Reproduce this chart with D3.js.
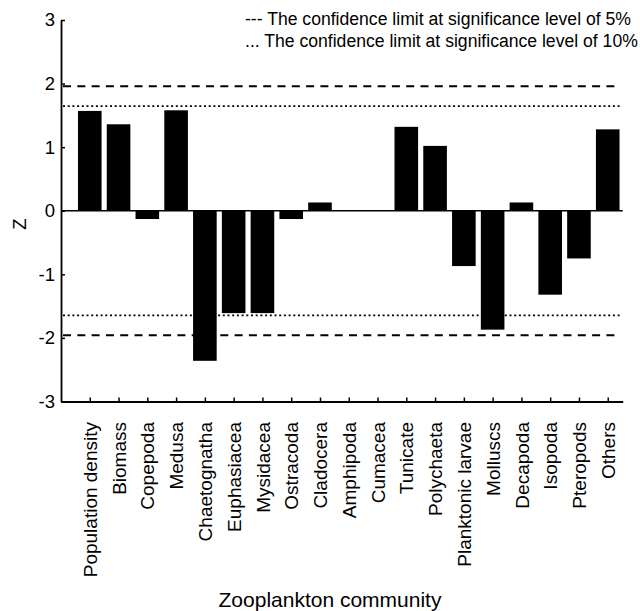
<!DOCTYPE html>
<html>
<head>
<meta charset="utf-8">
<script src="https://cdn.jsdelivr.net/npm/d3@7"></script>
<style>
  html, body { margin: 0; padding: 0; background: #fff; }
  svg { display: block; font-family: "Liberation Sans", Arial, sans-serif; }
</style>
</head>
<body>
<svg id="chart" width="640" height="611"></svg>
<script>
// Zooplankton groups along the horizontal axis
const categories = [
  "Population density", "Biomass", "Copepoda", "Medusa", "Chaetognatha",
  "Euphasiacea", "Mysidacea", "Ostracoda", "Cladocera", "Amphipoda",
  "Cumacea", "Tunicate", "Polychaeta", "Planktonic larvae", "Molluscs",
  "Decapoda", "Isopoda", "Pteropods", "Others"
];
// Z statistic for each group
const zValues = [
  1.57, 1.36, -0.13, 1.58, -2.36,
  -1.61, -1.61, -0.13, 0.13, 0,
  0, 1.32, 1.02, -0.87, -1.87,
  0.13, -1.32, -0.75, 1.28
];
// Confidence limits: 5% (dashed) and 10% (dotted)
const limits5 = [1.96, -1.96];
const limits10 = [1.645, -1.645];
const yTicks = [-3, -2, -1, 0, 1, 2, 3];
const legendLines = [
  "--- The confidence limit at significance level of 5%",
  "... The confidence limit at significance level of 10%"
];

const svg = d3.select("#chart");

const x = d3.scaleLinear().domain([0, 19.52]).range([61, 622.7]);
const y = d3.scaleLinear().domain([-3, 3]).range([401.5, 20]);
const barW = 23.6;

// bars
svg.append("g").selectAll("rect")
  .data(zValues)
  .join("rect")
  .attr("x", (d, i) => x(i + 1) - barW / 2)
  .attr("width", barW)
  .attr("y", d => y(Math.max(0, d)))
  .attr("height", d => Math.abs(y(d) - y(0)))
  .attr("fill", "#000");

// zero line
svg.append("line")
  .attr("x1", x(0)).attr("x2", x(19.52))
  .attr("y1", y(0)).attr("y2", y(0))
  .attr("stroke", "#000").attr("stroke-width", 1.5);

// confidence limit lines
svg.append("g").selectAll("line")
  .data(limits5)
  .join("line")
  .attr("x1", x(0) + 2).attr("x2", 617)
  .attr("y1", d => y(d)).attr("y2", d => y(d))
  .attr("stroke", "#000").attr("stroke-width", 2)
  .attr("stroke-dasharray", "8,6.3");

svg.append("g").selectAll("line")
  .data(limits10)
  .join("line")
  .attr("x1", x(0) + 2).attr("x2", 621)
  .attr("y1", d => y(d)).attr("y2", d => y(d))
  .attr("stroke", "#000").attr("stroke-width", 1.6)
  .attr("stroke-dasharray", "2,2.7");

// y axis (plain hyphen for negative numbers)
const yAxis = svg.append("g")
  .attr("transform", `translate(${x(0)},0)`)
  .call(d3.axisLeft(y).tickValues(yTicks).tickFormat(d => String(d))
    .tickSizeInner(-4).tickSizeOuter(0).tickPadding(6));
yAxis.select(".domain").attr("stroke-width", 1.8);
yAxis.selectAll(".tick line").attr("stroke-width", 1.5);
yAxis.selectAll("text")
  .attr("font-size", 18.5).attr("fill", "#000")
  .attr("font-family", "'Liberation Sans', Arial, sans-serif");

// x axis with rotated category labels
const xAxis = svg.append("g")
  .attr("transform", `translate(0,${y(-3)})`)
  .call(d3.axisBottom(x).tickValues(d3.range(1, categories.length + 1))
    .tickFormat(i => categories[i - 1])
    .tickSizeInner(-4).tickSizeOuter(0));
xAxis.select(".domain").attr("stroke-width", 1.8);
xAxis.selectAll(".tick line").attr("stroke-width", 1.5);
xAxis.selectAll("text")
  .attr("font-size", 19).attr("fill", "#000")
  .attr("font-family", "'Liberation Sans', Arial, sans-serif")
  .attr("text-anchor", "end")
  .attr("transform", "rotate(-90)")
  .attr("x", -20.5).attr("y", 0).attr("dy", "0.35em");

// axis titles
svg.append("text")
  .attr("transform", "translate(26,224) rotate(-90)")
  .attr("text-anchor", "middle")
  .attr("font-size", 18.5)
  .text("Z");

svg.append("text")
  .attr("x", 330).attr("y", 606.5)
  .attr("text-anchor", "middle")
  .attr("font-size", 21)
  .text("Zooplankton community");

// legend
svg.append("g").selectAll("text")
  .data(legendLines)
  .join("text")
  .attr("x", 245)
  .attr("y", (d, i) => 25 + i * 21.7)
  .attr("font-size", 17.6)
  .text(d => d);
</script>
</body>
</html>
